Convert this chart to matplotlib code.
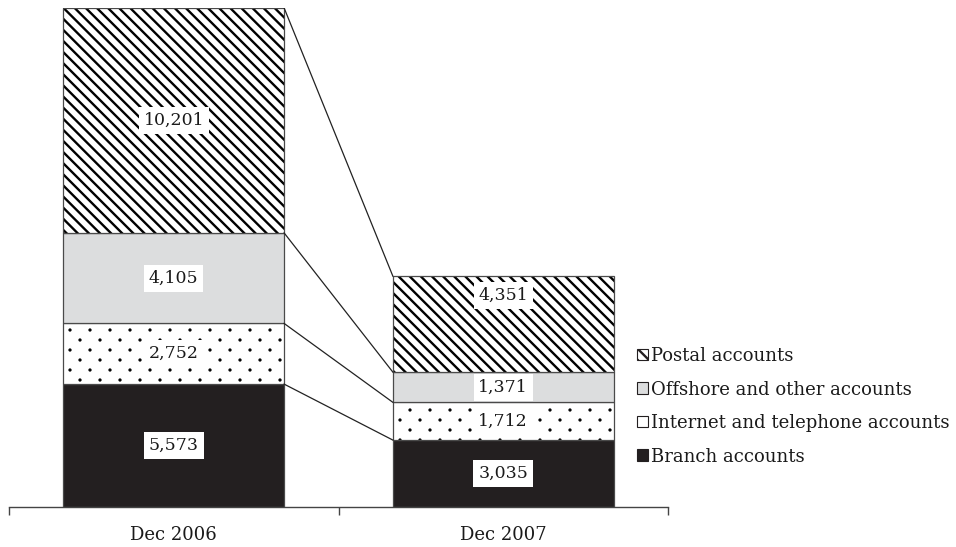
import numpy as np
import matplotlib
matplotlib.use("Agg")
import matplotlib.pyplot as plt
import matplotlib.hatch as mhatch
from matplotlib.path import Path
from matplotlib.patches import Patch

# Datos
periodos = ["Dec 2006", "Dec 2007"]
series = ["Branch accounts", "Internet and telephone accounts",
          "Offshore and other accounts", "Postal accounts"]
branch = [5573, 3035]
internet = [2752, 1712]
offshore = [4105, 1371]
postal = [10201, 4351]
etiquetas = ["5,573", "3,035", "2,752", "1,712", "4,105", "1,371", "10,201", "4,351"]


# Trama de puntos escalonados (filas cada 10 px, puntos cada 20 px)
class PuntosEscalonados(mhatch.HatchPatternBase):
    def __init__(self, hatch, density):
        self.pts = []
        if hatch.count('.') > 0:
            for r in range(11):
                y = r / 10
                if r % 2 == 0:
                    xs = np.linspace(0, 1, 6)
                else:
                    xs = np.linspace(0.1, 0.9, 5)
                for x in xs:
                    self.pts.append((x, y))
        self.circ = Path.unit_circle()
        self.num_vertices = len(self.pts) * len(self.circ.vertices)

    def set_vertices_and_codes(self, vertices, codes):
        n = len(self.circ.vertices)
        for i, (x, y) in enumerate(self.pts):
            vertices[i * n:(i + 1) * n] = self.circ.vertices * 0.010 + (x, y)
            codes[i * n:(i + 1) * n] = self.circ.codes


mhatch._hatch_types = [h for h in mhatch._hatch_types
                       if h is not mhatch.SmallFilledCircles] + [PuntosEscalonados]

plt.rcParams['font.family'] = ['DejaVu Serif']
plt.rcParams['hatch.linewidth'] = 1.7

W, H = 956, 547
fig = plt.figure(figsize=(W / 100, H / 100), dpi=100)
ax = fig.add_axes([9 / W, (H - 507) / H, 659 / W, 499 / H])

x = np.arange(len(periodos))
ancho = 0.67
oscuro = "#231f20"
borde = "#4a4a4a"

capas = [branch, internet, offshore, postal]
estilos = [dict(color=oscuro, hatch=None, hlw=None),
           dict(color="white", hatch="..", hlw=0.9),
           dict(color="#dcddde", hatch=None, hlw=None),
           dict(color="white", hatch="\\\\\\", hlw=1.7)]

base = np.zeros(len(periodos))
tops = []
for vals, est in zip(capas, estilos):
    vals = np.array(vals, dtype=float)
    barras = ax.bar(x, vals, ancho, bottom=base, color=est["color"], hatch=est["hatch"],
                    edgecolor="black", linewidth=0)
    if est["hlw"] is not None:
        for b in barras:
            if hasattr(b, "set_hatch_linewidth"):
                b.set_hatch_linewidth(est["hlw"])
    ax.bar(x, vals, ancho, bottom=base, fill=False, edgecolor=borde, linewidth=0.9)
    base = base + vals
    tops.append(base.copy())

# lineas que unen los segmentos
for t in tops:
    ax.plot([x[0] + ancho / 2, x[1] - ancho / 2], [t[0], t[1]],
            color="#222222", lw=0.9, zorder=1)

# etiquetas
frac = [[0.5, 0.5], [0.5, 0.5], [0.5, 0.5], [0.5, 0.8]]
k = 0
base = np.zeros(len(periodos))
for i, vals in enumerate(capas):
    for j in range(len(periodos)):
        ax.text(x[j], base[j] + vals[j] * frac[i][j], etiquetas[k],
                ha="center", va="center", fontsize=12.5, color="#1a1a1a",
                bbox=dict(boxstyle="square,pad=0.28", fc="white", ec="none"))
        k += 1
    base = base + np.array(vals)

ax.set_xlim(-0.5, 1.5)
ax.set_ylim(0, tops[-1][0])
for s in ["top", "right", "left"]:
    ax.spines[s].set_visible(False)
ax.spines["bottom"].set_color("#444444")
ax.spines["bottom"].set_linewidth(1.0)
ax.set_yticks([])
ax.set_xticks(x)
ax.set_xticklabels(periodos, fontsize=13, color="#1a1a1a")
ax.tick_params(axis="x", which="major", length=0, pad=14)
ax.set_xticks([-0.5, 0.5, 1.5], minor=True)
ax.tick_params(axis="x", which="minor", length=6, width=1.0, color="#444444")

handles = [Patch(facecolor="white", edgecolor=oscuro, hatch="\\\\\\", linewidth=0.8),
           Patch(facecolor="#dcddde", edgecolor=oscuro, linewidth=0.8),
           Patch(facecolor="white", edgecolor=oscuro, linewidth=0.8),
           Patch(facecolor=oscuro, edgecolor=oscuro, linewidth=0.8)]
fig.legend(handles, series[::-1], loc="upper left",
           bbox_to_anchor=(637 / W, 1 - 347 / H), frameon=False,
           fontsize=13, handlelength=0.6, handleheight=0.6,
           handletextpad=0.15, labelspacing=0.86, borderpad=0, borderaxespad=0,
           labelcolor="#1a1a1a")

fig.savefig("out.png", dpi=100)
